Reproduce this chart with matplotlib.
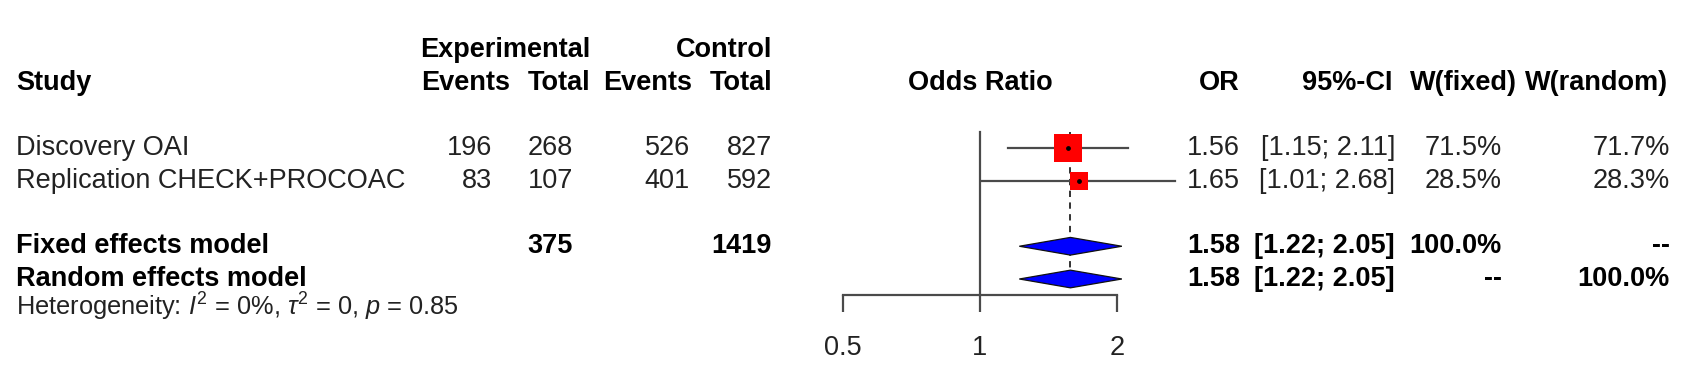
import matplotlib
matplotlib.use("Agg")
import matplotlib.pyplot as plt
import matplotlib.transforms as mtransforms
from matplotlib.patches import Polygon
from matplotlib.ticker import NullLocator
import numpy as np

plt.rcParams['font.family'] = ['Liberation Sans', 'DejaVu Sans']
plt.rcParams['mathtext.fontset'] = 'custom'
plt.rcParams['mathtext.rm'] = 'Liberation Sans'
plt.rcParams['mathtext.it'] = 'Liberation Sans:italic'

# data
studies = ['Discovery OAI', 'Replication CHECK+PROCOAC']
exp_events = [196, 83]
exp_total = [268, 107]
ctrl_events = [526, 401]
ctrl_total = [827, 592]
or_est = [1.56, 1.65]
ci_lo = [1.15, 1.01]
ci_hi = [2.11, 2.68]
w_fixed = [71.5, 28.5]
w_random = [71.7, 28.3]

pooled_names = ['Fixed effects model', 'Random effects model']
pooled_est = [1.58, 1.58]
pooled_lo = [1.22, 1.22]
pooled_hi = [2.05, 2.05]
pooled_w_fixed = ['100.0%', '--']
pooled_w_random = ['--', '100.0%']
exp_total_sum = 375
ctrl_total_sum = 1419
het_text = r'Heterogeneity: $I^2$ = 0%, $\tau^2$ = 0, $p$ = 0.85'

ticks = [0.5, 1, 2]
tick_labels = ['0.5', '1', '2']

# layout (pixels of a 1699x369 canvas, rows in line units)
W, H = 1699, 369
row0_px, row_px = 49.75, 32.75
study_rows = [3, 4]
pooled_rows = [6, 7]
het_row = 7.85
axis_row = 7.5
FS = 19.5
TXT = '#222222'
LINE = '#4a4a4a'

fig = plt.figure(figsize=(W / 100, H / 100), dpi=100)
x0_px, x1_px = 843, 1117
ax = fig.add_axes([x0_px / W, 0, (x1_px - x0_px) / W, 1])
ax.set_xscale('log')
ax.set_xlim(0.5, 2)
ax.set_ylim((H - row0_px) / row_px, -row0_px / row_px)
ax.axis('off')

# reference line and fixed-effect line
top = 2.5
ax.plot([1, 1], [top, axis_row], color=LINE, lw=1.6, clip_on=False)
ax.plot([pooled_est[0]] * 2, [top, pooled_rows[1] + 0.26], color='#222222',
        lw=1.3, ls=(0, (3.5, 3)), clip_on=False)

# study CIs and squares
for r, est, lo, hi, w in zip(study_rows, or_est, ci_lo, ci_hi, w_fixed):
    ax.plot([lo, hi], [r, r], color=LINE, lw=1.6, clip_on=False, zorder=2)
    side_pt = 20.5 * np.sqrt(w / max(w_fixed))
    ax.scatter([est], [r], marker='s', s=side_pt ** 2, color='#ff0000',
               linewidths=0, zorder=3, clip_on=False)
    ax.scatter([est], [r], marker='o', s=6, color='black', zorder=4, clip_on=False)

# pooled diamonds
for r, est, lo, hi in zip(pooled_rows, pooled_est, pooled_lo, pooled_hi):
    h = 0.27
    ax.add_patch(Polygon([(lo, r), (est, r - h), (hi, r), (est, r + h)],
                         closed=True, facecolor='#0000ff', edgecolor='#111111',
                         lw=0.9, zorder=3, clip_on=False))

# x axis
axx = fig.add_axes([x0_px / W, 1 - 295 / H, (x1_px - x0_px) / W, 1e-4])
axx.set_xscale('log')
axx.set_xlim(0.5, 2)
axx.set_xticks(ticks)
axx.set_xticklabels(tick_labels)
axx.xaxis.set_minor_locator(NullLocator())
axx.set_yticks([])
for s in ['top', 'left', 'right']:
    axx.spines[s].set_visible(False)
axx.spines['bottom'].set_color(LINE)
axx.spines['bottom'].set_linewidth(1.6)
axx.tick_params(axis='x', direction='out', length=12.5, width=1.6,
                color=LINE, labelsize=FS, labelcolor=TXT, pad=16)
axx.patch.set_visible(False)

# text columns
trans = mtransforms.blended_transform_factory(fig.transFigure, ax.transData)


def put(x_px, row, s, ha='right', bold=False, **kw):
    fig.text(x_px / W, row, s, transform=trans, ha=ha, va='center',
             fontsize=kw.pop('fontsize', FS),
             fontweight='bold' if bold else 'normal',
             color='black' if bold else TXT, **kw)


# headers
put(590, 0, 'Experimental', bold=True)
put(772, 0, 'Control', bold=True)
put(16, 1, 'Study', ha='left', bold=True)
put(510, 1, 'Events', bold=True)
put(590, 1, 'Total', bold=True)
put(692, 1, 'Events', bold=True)
put(772, 1, 'Total', bold=True)
put(980, 1, 'Odds Ratio', ha='center', bold=True)
put(1240, 1, 'OR', bold=True)
put(1393, 1, '95%-CI', bold=True)
put(1517, 1, 'W(fixed)', bold=True)
put(1668, 1, 'W(random)', bold=True)

for i, r in enumerate(study_rows):
    put(16, r, studies[i], ha='left')
    put(492, r, str(exp_events[i]))
    put(573, r, str(exp_total[i]))
    put(690, r, str(ctrl_events[i]))
    put(772, r, str(ctrl_total[i]))
    put(1240, r, f'{or_est[i]:.2f}')
    put(1395, r, f'[{ci_lo[i]:.2f}; {ci_hi[i]:.2f}]')
    put(1502, r, f'{w_fixed[i]:.1f}%')
    put(1670, r, f'{w_random[i]:.1f}%')

for i, r in enumerate(pooled_rows):
    put(16, r, pooled_names[i], ha='left', bold=True)
    put(1240, r, f'{pooled_est[i]:.2f}', bold=True)
    put(1395, r, f'[{pooled_lo[i]:.2f}; {pooled_hi[i]:.2f}]', bold=True)
    put(1502, r, pooled_w_fixed[i], bold=True)
    put(1670, r, pooled_w_random[i], bold=True)
put(573, pooled_rows[0], str(exp_total_sum), bold=True)
put(772, pooled_rows[0], str(ctrl_total_sum), bold=True)

put(16, het_row, het_text, ha='left', fontsize=18.3)

fig.savefig('out.png', dpi=100)
